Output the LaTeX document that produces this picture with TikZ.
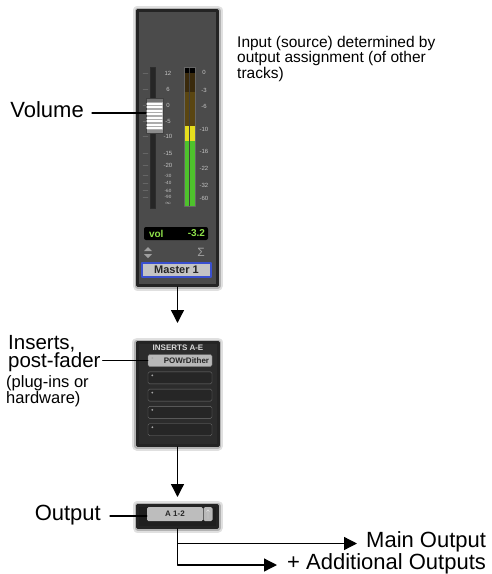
\documentclass[tikz,border=0pt]{standalone}
\usepackage{fontspec}
\setmainfont{Liberation Sans}
\usetikzlibrary{arrows.meta,positioning}
\definecolor{stripbg}{HTML}{4B4B4B}
\definecolor{stripedge}{HTML}{242424}
\definecolor{scaletxt}{HTML}{C4C4C4}
\definecolor{meterdark}{HTML}{3A2A0C}
\definecolor{meterbrown}{HTML}{5A4612}
\definecolor{meteryel}{HTML}{E6DE1E}
\definecolor{metergrn}{HTML}{4EC22C}
\definecolor{volgrn}{HTML}{8EE04A}
\definecolor{mastergray}{HTML}{C4C4C4}
\definecolor{masterblue}{HTML}{3A50D0}
\definecolor{insbg}{HTML}{2C2C2C}
\definecolor{slotdark}{HTML}{262626}
\definecolor{slotlight}{HTML}{B8B8B8}
\definecolor{btngray}{HTML}{BDBDBD}
\begin{document}
\begin{tikzpicture}[x=1pt,y=-1pt,line join=round,line cap=round,
  >={Triangle[length=13pt,width=13pt]},
  conn/.style={line width=1.3pt},
  panel/.style={draw=stripedge,line width=3pt,
    preaction={draw=black,opacity=.12,line width=10pt},
    preaction={draw=black,opacity=.2,line width=6pt}},
  lbl/.style={font=\fontsize{22}{18}\selectfont,inner sep=0pt,text height=8pt,text depth=0pt},
  lbltwo/.style={font=\fontsize{20.5}{18.5}\selectfont,inner sep=0pt,align=left},
  note/.style={font=\fontsize{16.5}{14.5}\selectfont,inner sep=0pt,align=left},
  notesm/.style={font=\fontsize{15.5}{14}\selectfont,inner sep=0pt,align=left},
  scl/.style={font=\fontsize{6}{6}\selectfont,text=scaletxt,inner sep=0pt},
  sclsm/.style={font=\fontsize{4.6}{5}\selectfont,text=scaletxt,inner sep=0pt},
  volfont/.style={font=\bfseries\fontsize{10}{10}\selectfont,text=volgrn,inner sep=0pt},
  slot/.style={draw=black!55,rounded corners=1.5pt,minimum width=64pt,minimum height=12pt,inner sep=0pt}]
\useasboundingbox (0,0) rectangle (491,574);
% master track
\node[panel,fill=stripbg,minimum width=80pt,minimum height=275pt,anchor=north] (master) at (177.5,9) {};
\foreach \y/\t in {73/12,89/6,105/0,121/-5,136/-10,153/-15,165/-20}{
  \node[scl] at (168,\y) {\t};
  \draw[black!60] (143,\y) -- (148,\y);}
\foreach \y/\t in {175.5/-30,183/-40,190.5/-60,197/-90}{
  \node[sclsm] at (168,\y) {\t};
  \draw[black!60] (143,\y) -- (148,\y);}
\node[sclsm] at (168,203.5) {$\infty$};
\foreach \y/\t in {72/0,90/-3,106/-6,129/-10,151/-16,168/-22,185/-32,198/-60}
  \node[scl] at (204,\y) {\t};
\fill[black!85] (151,68) rectangle (155,208);
\draw[black!40!stripbg] (150.5,67.5) rectangle (155.5,208);
% fader cap
\node[fill=gray!65,draw=black!75,minimum width=17pt,minimum height=35pt,inner sep=0pt] (fader) at (154.5,115.5) {};
\fill[black!55] (146.5,99) rectangle (162.5,102);
\foreach \y in {104,107,111,114,118,121,125,128}
  \draw[white,line width=1.1pt] (147,\y) -- (162,\y);
\fill[black!45] (146.5,130) rectangle (162.5,132.5);
% meter
\fill[black] (184,67) rectangle (195,73);
\fill[meterdark] (184,73) rectangle (195,92);
\fill[meterbrown] (184,92) rectangle (195,126);
\fill[meteryel] (184,126) rectangle (195,141);
\fill[metergrn] (184,141) rectangle (195,206);
\draw[black!75,line width=1pt] (189.5,67) -- (189.5,206);
\draw[black!60] (184,67) rectangle (195,206);
% vol + name
\node[fill=black,rounded corners=2pt,minimum width=64pt,minimum height=13pt,inner sep=0pt] (vol) at (176,233.5) {};
\node[volfont,anchor=west] (volname) at ([xshift=5pt]vol.west) {vol};
\node[volfont,anchor=east] (volval) at ([xshift=-3pt]vol.east) {-3.2};
\fill[gray!75] (144,251) -- (148,247) -- (152,251) -- cycle;
\fill[gray!75] (144,254) -- (148,258) -- (152,254) -- cycle;
\node[text=gray!75,font=\fontsize{12}{12}\selectfont,inner sep=0pt] (sum) at (201,252) {Σ};
\node[draw=masterblue,line width=1.2pt,fill=mastergray,minimum width=69pt,minimum height=14pt,inner sep=0pt,
  font=\bfseries\fontsize{11}{11}\selectfont,text=black!85] (mname) at (176.5,270) {Master 1};
% inserts
\node[panel,fill=insbg,minimum width=81pt,minimum height=103pt,anchor=north] (ins) at (177.5,341) {};
\node[font=\bfseries\fontsize{8}{9}\selectfont,text=white!85!black,inner sep=0pt] (institle) at (178,348) {INSERTS A-E};
\node[slot,fill=slotlight] (slot1) at (180,360.5) {};
\node[font=\bfseries\fontsize{8}{8}\selectfont,text=black!85,inner sep=0pt] (plugname) at (186.5,361) {POWrDither};
\foreach \i in {2,...,5}
  \node[slot,fill=slotdark] (slot\i) at (180,{360.5+17.3*(\i-1)}) {};
\foreach \i in {1,...,5}
  \fill[gray!70] ([shift={(4.5,-2.5)}]slot\i.west) circle (1);
% output
\node[panel,fill=black!88,minimum width=80pt,minimum height=22pt,anchor=north] (outbox) at (177.5,504) {};
\node[fill=btngray,rounded corners=1.5pt,minimum width=56pt,minimum height=14pt,inner sep=0pt,
  font=\bfseries\fontsize{8}{8}\selectfont,text=black!85] (a12) at (175,514) {A 1-2};
\node[fill=gray!55,rounded corners=1.5pt,minimum width=9pt,minimum height=14pt,inner sep=0pt] (sel) at (208,514) {};
\draw[gray!25] (208,509.5) -- (208,518.5) (206.5,511.5) -- (208,509.5) -- (209.5,511.5);
% labels
\node[lbl,anchor=base east] (vollbl) at (84,117) {Volume};
\draw[conn,shorten <=8pt] (vollbl.east) -- (vollbl.east -| fader.west);
\node[lbltwo,anchor=north west] (inslbl) at (8,335) {Inserts,\\post-fader};
\draw[conn,shorten <=2pt] (inslbl.east |- slot1.west) -- (slot1.west);
\node[note,anchor=north west] (plglbl) at (6,375) {(plug-ins or\\hardware)};
\node[lbl,anchor=base east] (outlbl) at (101,520) {Output};
\draw[conn,shorten <=9pt] (outlbl.east) -- (outlbl.east -| a12.west);
\node[notesm,anchor=north west] (inputnote) at (237,36) {Input (source) determined by\\output assignment (of other\\tracks)};
\node[lbl,anchor=base west] (mainout) at (366,547.5) {Main Output};
\node[lbl,anchor=base west] (addout) at (287,569) {+ Additional Outputs};
% signal flow
\draw[conn,->,shorten >=18pt] (master.south) -- (ins.north);
\draw[conn,->,shorten >=7pt] (ins.south) -- (outbox.north);
\draw[conn,->,shorten >=9pt] (outbox.south) |- (mainout.west);
\draw[conn,->,shorten >=10pt] (outbox.south) |- (addout.west);
\end{tikzpicture}
\end{document}
